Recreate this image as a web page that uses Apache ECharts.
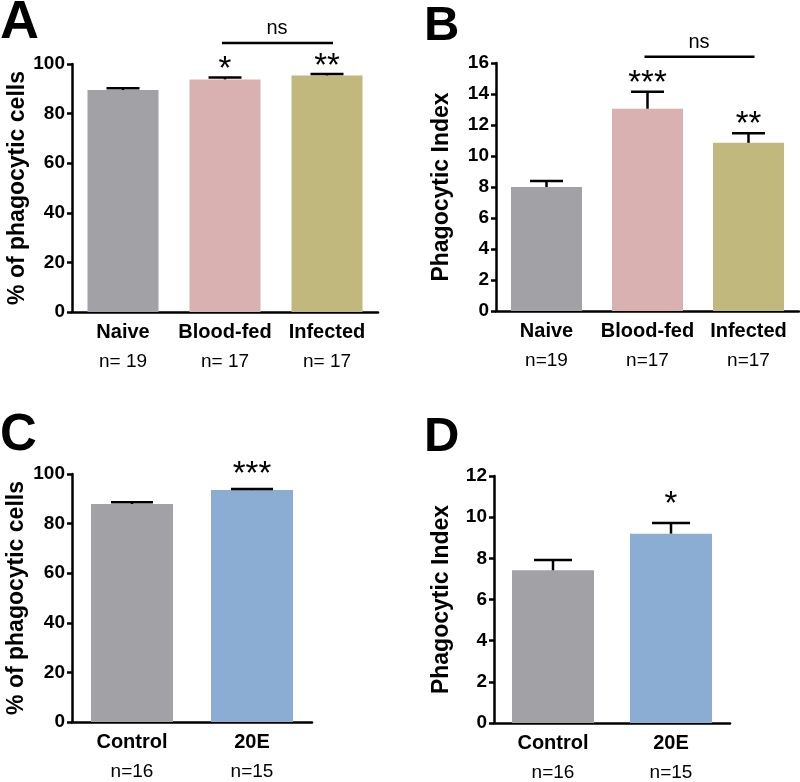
<!DOCTYPE html>
<html><head><meta charset="utf-8">
<script src="https://cdn.jsdelivr.net/npm/echarts@6/dist/echarts.min.js"></script>
<style>html,body{margin:0;padding:0;background:#fff}#c{width:800px;height:782px}</style>
</head><body><div id="c"></div>
<script>
// ---- data ----
const catsAB = ['Naive', 'Blood-fed', 'Infected'];
const nLabelsA = ['n= 19', 'n= 17', 'n= 17'];
const nLabelsB = ['n=19', 'n=17', 'n=17'];
const catsCD = ['Control', '20E'];
const nLabelsCD = ['n=16', 'n=15'];

const meanA = [89.5, 93.8, 95.4];
const semA  = [0.7, 0.8, 0.6];
const meanB = [8.0, 13.05, 10.85];
const semB  = [0.38, 1.1, 0.62];
const meanC = [87.9, 93.5];
const semC  = [0.7, 0.5];
const meanD = [7.42, 9.2];
const semD  = [0.5, 0.52];

const sigA = ['', '*', '**'];
const sigB = ['', '***', '**'];
const sigC = ['', '***'];
const sigD = ['', '*'];

const nsA = [1, 2, 108.5];   // from cat, to cat, y value
const nsB = [1, 2, 16.4];

const yMaxA = 100, yStepA = 20;
const yMaxB = 16,  yStepB = 2;
const yMaxC = 100, yStepC = 20;
const yMaxD = 12,  yStepD = 2;

// ---- style ----
const FONT = 'Liberation Sans, Arial, sans-serif';
const colorsAB = ['#a2a1a6', '#d8b1b0', '#c1b87e'];
const colorsCD = ['#a2a1a6', '#8badd4'];
const LW = 2.5;

const grids = [
  {left: 72, top: 64, width: 306, height: 248},
  {left: 496, top: 63, width: 303, height: 248},
  {left: 72, top: 474, width: 240, height: 248},
  {left: 494, top: 476, width: 236, height: 248}
];

function xAxisFor(gi, cats, nl) {
  return {
    type: 'category', gridIndex: gi, data: cats,
    axisLine: {lineStyle: {color: '#000', width: LW}},
    axisTick: {alignWithLabel: true, length: 6, lineStyle: {color: '#000', width: LW}},
    axisLabel: {
      margin: 6, color: '#000', fontFamily: FONT,
      formatter: (v, i) => '{a|' + v + '}\n{b|' + nl[i] + '}',
      rich: {
        a: {fontWeight: 'bold', fontSize: 20, lineHeight: 29, fontFamily: FONT, color: '#000'},
        b: {fontSize: 19, lineHeight: 29, fontFamily: FONT, color: '#000'}
      }
    }
  };
}
function yAxisFor(gi, max, step, name, gap) {
  return {
    type: 'value', gridIndex: gi, min: 0, max: max, interval: step,
    name: name, nameLocation: 'middle', nameRotate: 90, nameGap: gap,
    nameTextStyle: {fontWeight: 'bold', fontSize: 23, fontFamily: FONT, color: '#000'},
    splitLine: {show: false},
    axisLine: {show: true, lineStyle: {color: '#000', width: LW}},
    axisTick: {show: true, length: 5, lineStyle: {color: '#000', width: LW}},
    axisLabel: {margin: 7, fontWeight: 'bold', fontSize: 19, fontFamily: FONT, color: '#000'}
  };
}
function barSeries(gi, means, colors, bw) {
  return {
    type: 'bar', xAxisIndex: gi, yAxisIndex: gi, barWidth: bw,
    data: means.map((m, i) => ({value: m, itemStyle: {color: colors[i]}})),
    silent: true, z: 2
  };
}
function errSeries(gi, means, sems, sigs, capW, sigGap) {
  return {
    type: 'custom', xAxisIndex: gi, yAxisIndex: gi, z: 3, silent: true,
    encode: {x: 0, y: 1},
    data: means.map((m, i) => [i, m, sems[i], i]),
    renderItem: function (params, api) {
      const x = api.value(0), m = api.value(1), e = api.value(2), idx = api.value(3);
      const p0 = api.coord([x, m]);
      const p1 = api.coord([x, m + e]);
      const ch = [
        {type: 'line', shape: {x1: p0[0], y1: p0[1], x2: p1[0], y2: p1[1]}, style: {stroke: '#000', lineWidth: LW}},
        {type: 'line', shape: {x1: p1[0] - capW / 2, y1: p1[1], x2: p1[0] + capW / 2, y2: p1[1]}, style: {stroke: '#000', lineWidth: LW}}
      ];
      const s = sigs[idx];
      if (s) {
        ch.push({type: 'text', x: p1[0], y: p1[1] - sigGap,
          style: {text: s, fill: '#000', font: '33px ' + FONT, align: 'center', verticalAlign: 'middle'}});
      }
      return {type: 'group', children: ch};
    }
  };
}
function nsSeries(gi, ns) {
  return {
    type: 'custom', xAxisIndex: gi, yAxisIndex: gi, z: 3, silent: true,
    encode: {x: 0, y: 2},
    data: [ns],
    renderItem: function (params, api) {
      const a = api.coord([api.value(0), api.value(2)]);
      const b = api.coord([api.value(1), api.value(2)]);
      return {type: 'group', children: [
        {type: 'line', shape: {x1: a[0] - 3, y1: a[1], x2: b[0] + 6, y2: b[1]}, style: {stroke: '#000', lineWidth: LW}},
        {type: 'text', x: (a[0] + b[0]) / 2 + 1, y: a[1] - 14,
          style: {text: 'ns', fill: '#000', font: '20px ' + FONT, align: 'center', verticalAlign: 'middle'}}
      ]};
    }
  };
}

const option = {
  animation: false,
  backgroundColor: '#fff',
  grid: grids,
  xAxis: [
    xAxisFor(0, catsAB, nLabelsA),
    xAxisFor(1, catsAB, nLabelsB),
    xAxisFor(2, catsCD, nLabelsCD),
    xAxisFor(3, catsCD, nLabelsCD)
  ],
  yAxis: [
    yAxisFor(0, yMaxA, yStepA, '% of phagocytic cells', 43),
    yAxisFor(1, yMaxB, yStepB, 'Phagocytic Index', 43),
    yAxisFor(2, yMaxC, yStepC, '% of phagocytic cells', 44),
    yAxisFor(3, yMaxD, yStepD, 'Phagocytic Index', 41)
  ],
  series: [
    barSeries(0, meanA, colorsAB, 71),
    barSeries(1, meanB, colorsAB, 71),
    barSeries(2, meanC, colorsCD, 82),
    barSeries(3, meanD, colorsCD, 82),
    errSeries(0, meanA, semA, sigA, 33, 7),
    errSeries(1, meanB, semB, sigB, 33, 8),
    errSeries(2, meanC, semC, sigC, 42, 14),
    errSeries(3, meanD, semD, sigD, 38, 18),
    nsSeries(0, nsA),
    nsSeries(1, nsB)
  ],
  graphic: [
    {type: 'text', left: 0, top: -4, style: {text: 'A', font: 'bold 54px ' + FONT, fill: '#000'}},
    {type: 'text', left: 424, top: 2, style: {text: 'B', font: 'bold 49px ' + FONT, fill: '#000'}},
    {type: 'text', left: 0, top: 410, style: {text: 'C', font: 'bold 51px ' + FONT, fill: '#000'}},
    {type: 'text', left: 424, top: 413, style: {text: 'D', font: 'bold 49px ' + FONT, fill: '#000'}}
  ]
};
const chart = echarts.init(document.getElementById('c'));
chart.setOption(option);
</script>
</body></html>
